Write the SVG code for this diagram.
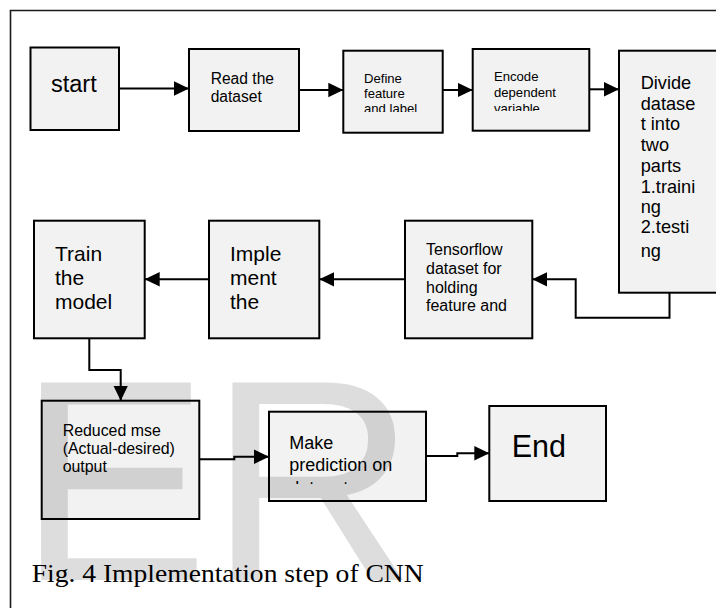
<svg xmlns="http://www.w3.org/2000/svg" width="716" height="608" viewBox="0 0 716 608">
<style>
.box{fill:#f2f2f2;stroke:#000;stroke-width:2}
.t{font-family:"Liberation Sans",Arial,sans-serif;fill:#000}
.c{fill:none;stroke:#000;stroke-width:2}
</style>
<defs>
<marker id="ah" markerUnits="userSpaceOnUse" markerWidth="16" markerHeight="15" refX="15" refY="7.25" orient="auto">
<path d="M0,0 L15,7.25 L0,14.5 z" fill="#000"/>
</marker>
<clipPath id="cDef"><rect x="344" y="51" width="98" height="61"/></clipPath>
<clipPath id="cEnc"><rect x="473" y="50" width="115" height="61"/></clipPath>
<clipPath id="cTen"><rect x="406" y="221" width="126" height="96"/></clipPath>
<clipPath id="cMak"><rect x="270" y="412" width="155" height="72"/></clipPath>
</defs>
<rect width="716" height="608" fill="#fff"/>
<path d="M716 10.5 H10.5 V608" fill="none" stroke="#1a1a1a" stroke-width="1.6"/>

<g id="connectors">
<path class="c" d="M119 88.5 H189" marker-end="url(#ah)"/>
<path class="c" d="M299 90 H343.3" marker-end="url(#ah)"/>
<path class="c" d="M442.7 90 H472.7" marker-end="url(#ah)"/>
<path class="c" d="M589.3 89.3 H619" marker-end="url(#ah)"/>
<path class="c" d="M669.5 292.7 V317.7 H575.7 V279.3 H532.3" marker-end="url(#ah)"/>
<path class="c" d="M405 279.3 H319.3" marker-end="url(#ah)"/>
<path class="c" d="M209 279.3 H144.7" marker-end="url(#ah)"/>
<path class="c" d="M89.3 338.3 V370 H120.7 V400.7" marker-end="url(#ah)"/>
<path class="c" d="M199.3 459.3 H234.3 V456.7 H269" marker-end="url(#ah)"/>
<path class="c" d="M426 456 H457.3 V453.3 H489.3" marker-end="url(#ah)"/>
</g>

<g id="start">
<rect class="box" x="30.5" y="47.5" width="88.5" height="82.5"/>
<text class="t" x="51" y="91.7" font-size="23.5">start</text>
</g>
<g id="read">
<rect class="box" x="189" y="49" width="110" height="82"/>
<text class="t" x="210.7" font-size="15.6"><tspan x="210.7" y="84.3">Read the</tspan><tspan x="210.7" y="101.7">dataset</tspan></text>
</g>
<g id="define">
<rect class="box" x="343.3" y="50.7" width="99.4" height="82"/>
<g clip-path="url(#cDef)">
<text class="t" font-size="13.1"><tspan x="364" y="83.3">Define</tspan><tspan x="364" y="97.7">feature</tspan><tspan x="364" y="113">and label</tspan></text>
</g>
</g>
<g id="encode">
<rect class="box" x="472.7" y="49" width="116.6" height="81.7"/>
<g clip-path="url(#cEnc)">
<text class="t" font-size="13.1"><tspan x="494" y="81">Encode</tspan><tspan x="494" y="96.6">dependent</tspan><tspan x="494" y="112.5">variable</tspan></text>
</g>
</g>
<g id="divide">
<rect class="box" x="619" y="50.7" width="110" height="242"/>
<text class="t" font-size="18.2"><tspan x="640.7" y="89.3">Divide</tspan><tspan x="640.7" y="110">datase</tspan><tspan x="640.7" y="130">t into</tspan><tspan x="640.7" y="150.5">two</tspan><tspan x="640.7" y="171.7">parts</tspan><tspan x="640.7" y="193.3">1.traini</tspan><tspan x="640.7" y="213.3">ng</tspan><tspan x="640.7" y="233.3">2.testi</tspan><tspan x="640.7" y="256.7">ng</tspan></text>
</g>
<g id="tensorflow">
<rect class="box" x="405" y="220.7" width="127.3" height="117.6"/>
<g clip-path="url(#cTen)">
<text class="t" font-size="16"><tspan x="426" y="255">Tensorflow</tspan><tspan x="426" y="274">dataset for</tspan><tspan x="426" y="293.3">holding</tspan><tspan x="426" y="310.5">feature and</tspan><tspan x="426" y="328.5">label</tspan></text>
</g>
</g>
<g id="implement">
<rect class="box" x="209" y="220.7" width="110.3" height="117.6"/>
<text class="t" font-size="21"><tspan x="230" y="261">Imple</tspan><tspan x="230" y="285">ment</tspan><tspan x="230" y="309.3">the</tspan></text>
</g>
<g id="train">
<rect class="box" x="34" y="220.7" width="110.7" height="117.6"/>
<text class="t" font-size="21"><tspan x="55" y="261">Train</tspan><tspan x="55" y="285">the</tspan><tspan x="55" y="309.3">model</tspan></text>
</g>
<g id="reduced">
<rect class="box" x="41.7" y="400.7" width="157.6" height="118.3"/>
<text class="t" font-size="15.9"><tspan x="62.7" y="436">Reduced mse</tspan><tspan x="62.7" y="454.3">(Actual-desired)</tspan><tspan x="62.7" y="472.3">output</tspan></text>
</g>
<g id="predict">
<rect class="box" x="269" y="411.7" width="157" height="89.3"/>
<g clip-path="url(#cMak)">
<text class="t" font-size="18"><tspan x="289.3" y="449.3">Make</tspan><tspan x="289.3" y="470.7">prediction on</tspan><tspan x="289.3" y="494">dataset</tspan></text>
</g>
</g>
<g id="end">
<rect class="box" x="489.3" y="406" width="116.7" height="95"/>
<text class="t" x="511.7" y="457.3" font-size="30.5">End</text>
</g>

<text x="31.7" y="581.7" font-family="'Liberation Serif','Times New Roman',serif" font-size="26" textLength="392" lengthAdjust="spacingAndGlyphs" fill="#000">Fig. 4 Implementation step of CNN</text>

<text x="17.5" y="580" font-family="'Liberation Sans',Arial,sans-serif" font-size="287" fill="#000" fill-opacity="0.135">ER</text>
</svg>
